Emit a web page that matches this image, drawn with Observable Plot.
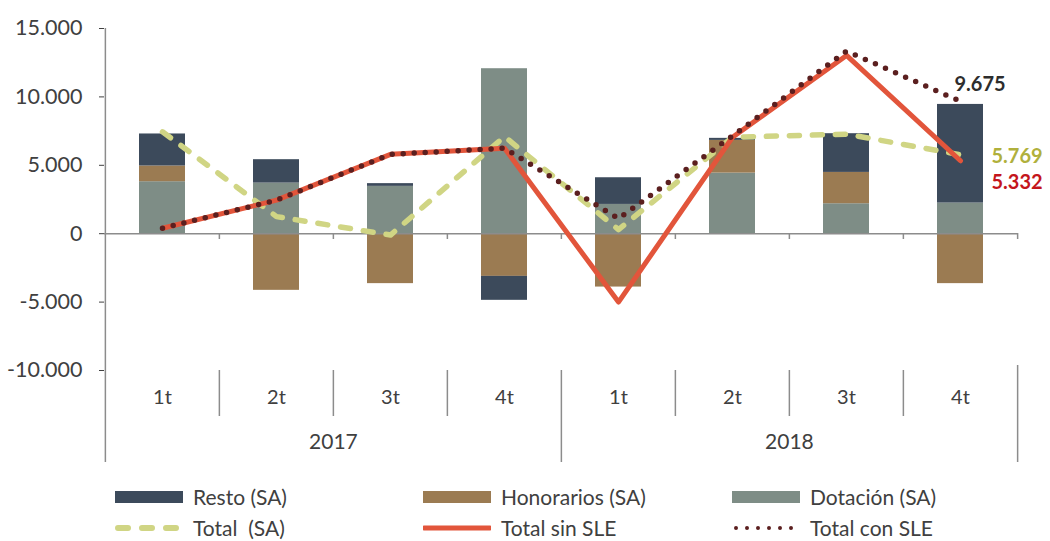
<!DOCTYPE html>
<html>
<head>
<meta charset="utf-8">
<script src="https://cdn.jsdelivr.net/npm/d3@7"></script>
<script src="https://cdn.jsdelivr.net/npm/@observablehq/plot@0.6"></script>
<style>
  html, body { margin: 0; padding: 0; background: #fff; }
  #wrap { position: relative; width: 1050px; height: 541px; font-family: Lato, "Open Sans", sans-serif; color: #404040; overflow: hidden; }
  .leg { position: absolute; display: flex; align-items: center; height: 22px; line-height: 22px; font-size: 21px; white-space: pre; }
  .leg svg { margin-right: 10px; }
</style>
</head>
<body>
<div id="wrap"></div>
<script>
// ---- data ----
const years = ["2017", "2018"];
const quarters = ["1t", "2t", "3t", "4t"];
const resto       = [2340, 1710, 200, -1750, 1950, 150, 2830, 7210];
const honorarios  = [1150, -4140, -3650, -3120, -3900, 2390, 2290, -3650];
const dotacion    = [3800, 3700, 3460, 12060, 2140, 4430, 2190, 2240];
const totalSA     = [7450, 1250, -100, 7100, 300, 7050, 7280, 5769];
const totalSinSLE = [400, 2450, 5800, 6250, -5000, 7050, 13030, 5332];
const totalConSLE = [400, 2450, 5800, 6250, 1100, 7150, 13350, 9675];
const yTicks = [-10000, -5000, 0, 5000, 10000, 15000];
const barSeries = ["Dotación (SA)", "Honorarios (SA)", "Resto (SA)"];
const barColors = ["#7e8d86", "#9b7b52", "#3c4a5b"];

// ---- derived tables ----
const cats = years.flatMap(yr => quarters.map(q => ({year: yr, quarter: q, key: yr + " " + q})));
const keys = cats.map(c => c.key);
const barValues = {"Dotación (SA)": dotacion, "Honorarios (SA)": honorarios, "Resto (SA)": resto};
const barData = barSeries.flatMap(s => keys.map((k, i) => ({key: k, series: s, value: barValues[s][i]})));
const lineOf = arr => keys.map((k, i) => ({key: k, value: arr[i]}));
const lSA = lineOf(totalSA), lSin = lineOf(totalSinSLE), lCon = lineOf(totalConSLE);
const last = a => [a[a.length - 1]];

const loc = d3.formatLocale({decimal: ",", thousands: ".", grouping: [3], currency: ["", ""], minus: "-"});
const fmt = loc.format(",.0f");

// ---- layout ----
const W = 1050, H = 470, mL = 104, mR = 32, mT = 28, mB = 8;
const step = (W - mL - mR) / keys.length;
const axisColor = "#8c8c8c";
const yearMid = years.map(yr => ({year: yr, key: yr + " " + quarters[2]}));
const zeroPx = 233; // pixel row of the zero line (for the tick insets)

const chart = Plot.plot({
  width: W, height: H,
  marginLeft: mL, marginRight: mR, marginTop: mT, marginBottom: mB,
  style: {fontFamily: "Lato, 'Open Sans', sans-serif", fontSize: "21.5px", color: "#404040", background: "white", overflow: "visible"},
  x: {domain: keys, paddingInner: 0.6, paddingOuter: 0.3, axis: null},
  y: {domain: [-16725, 15000], ticks: yTicks, tickFormat: fmt, tickSize: 5, tickPadding: 17, label: null},
  color: {domain: barSeries, range: barColors},
  marks: [
    Plot.barY(barData, {x: "key", y: "value", fill: "series", order: barSeries}),
    // zero axis line
    Plot.ruleY([0], {stroke: axisColor, strokeWidth: 1.5}),
    // left axis line (full height)
    Plot.ruleX([keys[0]], {dx: -step / 2, stroke: axisColor, strokeWidth: 1.5}),
    // tick marks below zero line at band boundaries
    Plot.ruleX(keys.slice(1), {x: d => d, dx: -step / 2, insetTop: zeroPx - mT, insetBottom: H - mB - zeroPx - 6, stroke: axisColor, strokeWidth: 1.5}),
    Plot.ruleX([keys[keys.length - 1]], {x: d => d, dx: step / 2, insetTop: zeroPx - mT, insetBottom: H - mB - zeroPx - 6, stroke: axisColor, strokeWidth: 1.5}),
    // quarter separators in label area
    Plot.ruleX(cats.filter(c => c.quarter !== quarters[0]), {x: "key", dx: -step / 2, insetTop: 342, insetBottom: 46, stroke: axisColor, strokeWidth: 1.5}),
    // year separators
    Plot.ruleX(cats.filter((c, i) => i > 0 && c.quarter === quarters[0]), {x: "key", dx: -step / 2, insetTop: 342, stroke: axisColor, strokeWidth: 1.5}),
    Plot.ruleX([keys[keys.length - 1]], {x: d => d, dx: step / 2, insetTop: 337, stroke: axisColor, strokeWidth: 1.5}),
    // category labels
    Plot.text(cats, {x: "key", text: "quarter", frameAnchor: "bottom", dy: -59, fontSize: 20, fill: "#404040"}),
    Plot.text(yearMid, {x: "key", text: "year", dx: -step / 2, frameAnchor: "bottom", dy: -14, fontSize: 21, fill: "#404040"}),
    // lines
    Plot.lineY(lSA, {x: "key", y: "value", stroke: "#d0d584", strokeWidth: 5.5, strokeDasharray: "10,13", strokeLinecap: "round"}),
    Plot.lineY(lSin, {x: "key", y: "value", stroke: "#e2553b", strokeWidth: 5}),
    Plot.lineY(lCon, {x: "key", y: "value", stroke: "#5b1f1f", strokeWidth: 5.5, strokeDasharray: "0,11", strokeLinecap: "round"}),
    // end labels
    Plot.text(last(lCon), {x: "key", y: "value", text: d => fmt(d.value), dx: -6, dy: -17, textAnchor: "start", fontWeight: "bold", fontSize: 20, fill: "#2d2d2d"}),
    Plot.text(last(lSA), {x: "key", y: "value", text: d => fmt(d.value), dx: 31, dy: 2, textAnchor: "start", fontWeight: "bold", fontSize: 20, fill: "#b0b03c"}),
    Plot.text(last(lSin), {x: "key", y: "value", text: d => fmt(d.value), dx: 31, dy: 22, textAnchor: "start", fontWeight: "bold", fontSize: 20, fill: "#c4161c"})
  ]
});

const wrap = document.getElementById("wrap");
wrap.appendChild(chart);

// ---- legend ----
const legendItems = [
  {label: "Resto (SA)", type: "rect", color: barColors[2], col: 0, row: 0},
  {label: "Honorarios (SA)", type: "rect", color: barColors[1], col: 1, row: 0},
  {label: "Dotación (SA)", type: "rect", color: barColors[0], col: 2, row: 0},
  {label: "Total  (SA)", type: "dash", color: "#d0d584", col: 0, row: 1},
  {label: "Total sin SLE", type: "solid", color: "#e2553b", col: 1, row: 1},
  {label: "Total con SLE", type: "dot", color: "#5b1f1f", col: 2, row: 1}
];
const colX = [115, 423, 732], rowY = [486, 517];
for (const it of legendItems) {
  const d = document.createElement("div");
  d.className = "leg";
  d.style.left = colX[it.col] + "px";
  d.style.top = rowY[it.row] + "px";
  let sw;
  if (it.type === "rect") sw = `<svg width="68" height="14"><rect x="0" y="1" width="68" height="12" fill="${it.color}"/></svg>`;
  else if (it.type === "dash") sw = `<svg width="68" height="14"><line x1="3" x2="66" y1="7" y2="7" stroke="${it.color}" stroke-width="6" stroke-dasharray="10,14" stroke-linecap="round"/></svg>`;
  else if (it.type === "solid") sw = `<svg width="68" height="14"><line x1="1" x2="67" y1="7" y2="7" stroke="${it.color}" stroke-width="5" stroke-linecap="round"/></svg>`;
  else sw = `<svg width="68" height="14"><line x1="4" x2="66" y1="7" y2="7" stroke="${it.color}" stroke-width="4" stroke-dasharray="0,11" stroke-linecap="round"/></svg>`;
  d.innerHTML = sw + `<span>${it.label}</span>`;
  wrap.appendChild(d);
}
</script>
</body>
</html>
